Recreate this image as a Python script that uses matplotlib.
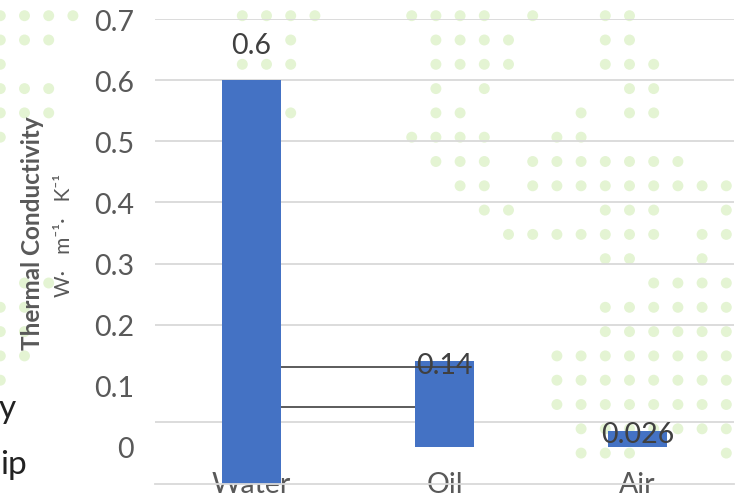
import numpy as np
import matplotlib.pyplot as plt

plt.rcParams['font.family'] = ['Lato', 'DejaVu Sans']

categories = ['Water', 'Oil', 'Air']
conductivity = [0.6, 0.14, 0.026]
value_labels = ['0.6', '0.14', '0.026']
y_ticks = [0, 0.1, 0.2, 0.3, 0.4, 0.5, 0.6, 0.7]
grid_levels = [0.7, 0.6, 0.5, 0.4, 0.3, 0.2, 0.041]
link_levels = [0.13, 0.066]

# faint green dot pattern of the slide behind the chart (row -> columns)
dot_rows = {
    -1: list(range(-9, 6)),
    0: [-17, -16, -15, -14, -7, -6, -5, -4, 0, 1, 2, 3, 5, 8, 9],
    1: [-17, -16, -15, -5, 1, 2, 3, 4, 8, 9],
    2: [-17, -7, -6, -5, 1, 2, 3, 4, 8, 9, 10],
    3: [-17, -16, -15, 1, 3, 9, 10],
    4: [-17, -16, -15, -5, 1, 2, 7, 9, 10],
    5: [-17, 0, 1, 2, 3, 6, 7],
    6: [1, 2, 3, 5, 6, 7, 8, 9, 10, 11],
    7: [2, 3, 5, 6, 7, 8, 9, 10, 11, 12, 13],
    8: [3, 4, 8, 9, 10, 13],
    9: [4, 5, 6, 7, 8, 9, 10, 12, 13],
    10: [8, 9, 12],
    11: [-16, -15, 10, 11, 12, 13],
    12: [-17, -16, 8, 9, 10, 11, 12, 13],
    13: [-17, -16, 8, 9, 10, 11, 12, 13],
    14: [-17, -16, 6, 7, 8, 9, 10, 11, 12, 13],
    15: [-17, 6, 7, 8, 9, 10, 11, 12, 13],
    16: [6, 7, 8, 9, 10, 11, 12, 13],
    17: [7, 8, 9, 10, 11, 12, 13],
    18: [7, 8, 9, 13],
}

W, H = 739, 502
fig = plt.figure(figsize=(W / 100, H / 100), dpi=100)
fig.patch.set_facecolor('white')

# background layer in pixel coordinates
bg = fig.add_axes([0, 0, 1, 1], zorder=0)
bg.set_xlim(0, W)
bg.set_ylim(H, 0)
bg.axis('off')
dx, dy = [], []
for row, cols in dot_rows.items():
    for c in cols:
        dx.append(411.7 + 24.2 * c)
        dy.append(16.7 + 24.3 * row)
bg.scatter(dx, dy, s=62, color='#e4f4d3', edgecolors='none')
bg.text(16, 409, 'y', fontsize=24, color='#222222', ha='right', va='center')
bg.text(27, 465, 'ip', fontsize=24, color='#222222', ha='right', va='center')

# chart
ax = fig.add_axes([155 / W, 1 - 485 / H, (734 - 155) / W, (485 - 20) / H], zorder=1)
ax.set_facecolor('none')
y_floor = -0.0607
ax.set_ylim(y_floor, 0.7)
ax.set_xlim(-0.5, 2.5)

for lvl in grid_levels:
    ax.axhline(lvl, color='#d9d9d9', lw=1.3, zorder=0)

x = np.arange(len(categories))
bar_w = 0.31
bases = [y_floor, 0, 0]
ax.bar(x, np.array(conductivity) - np.array(bases), bottom=bases, width=bar_w,
       color='#4472c4', zorder=2)

# value labels
offsets = [35, -4, -3]
for xi, v, lab, off in zip(x, conductivity, value_labels, offsets):
    ax.annotate(lab, (xi, v), xytext=(0, off * 0.72), textcoords='offset points',
                ha='center', va='center', fontsize=20.5, color='#404040', zorder=4)

# connector lines between Water and Oil
ax.hlines(link_levels[0], x[0] + bar_w / 2, x[1] + bar_w / 2 - 0.02,
          color='#404040', lw=1.2, zorder=3)
ax.hlines(link_levels[1], x[0] + bar_w / 2, x[1] - bar_w / 2,
          color='#404040', lw=1.2, zorder=3)

ax.set_yticks(y_ticks)
ax.set_yticklabels(['0' if t == 0 else f'{t:.1f}' for t in y_ticks])
ax.set_xticks(x)
ax.set_xticklabels(categories)
ax.tick_params(axis='y', length=0, pad=15, labelsize=20.5, labelcolor='#595959')
ax.tick_params(axis='x', length=0, pad=-9, labelsize=20.5, labelcolor='#595959')
for lab in ax.get_xticklabels():
    lab.set_zorder(5)
for s in ['top', 'left', 'right']:
    ax.spines[s].set_visible(False)
ax.spines['bottom'].set_color('#d9d9d9')
ax.spines['bottom'].set_linewidth(1.3)

fig.text(33 / W, 1 - 233 / H, 'Thermal Conductivity', rotation=90, fontsize=17.5,
         fontweight='bold', color='#595959', ha='center', va='center')
fig.text(64 / W, 1 - 235 / H, 'W·   m⁻¹·   K⁻¹', rotation=90, fontsize=15,
         color='#595959', ha='center', va='center')

fig.savefig('out.png', dpi=100)
